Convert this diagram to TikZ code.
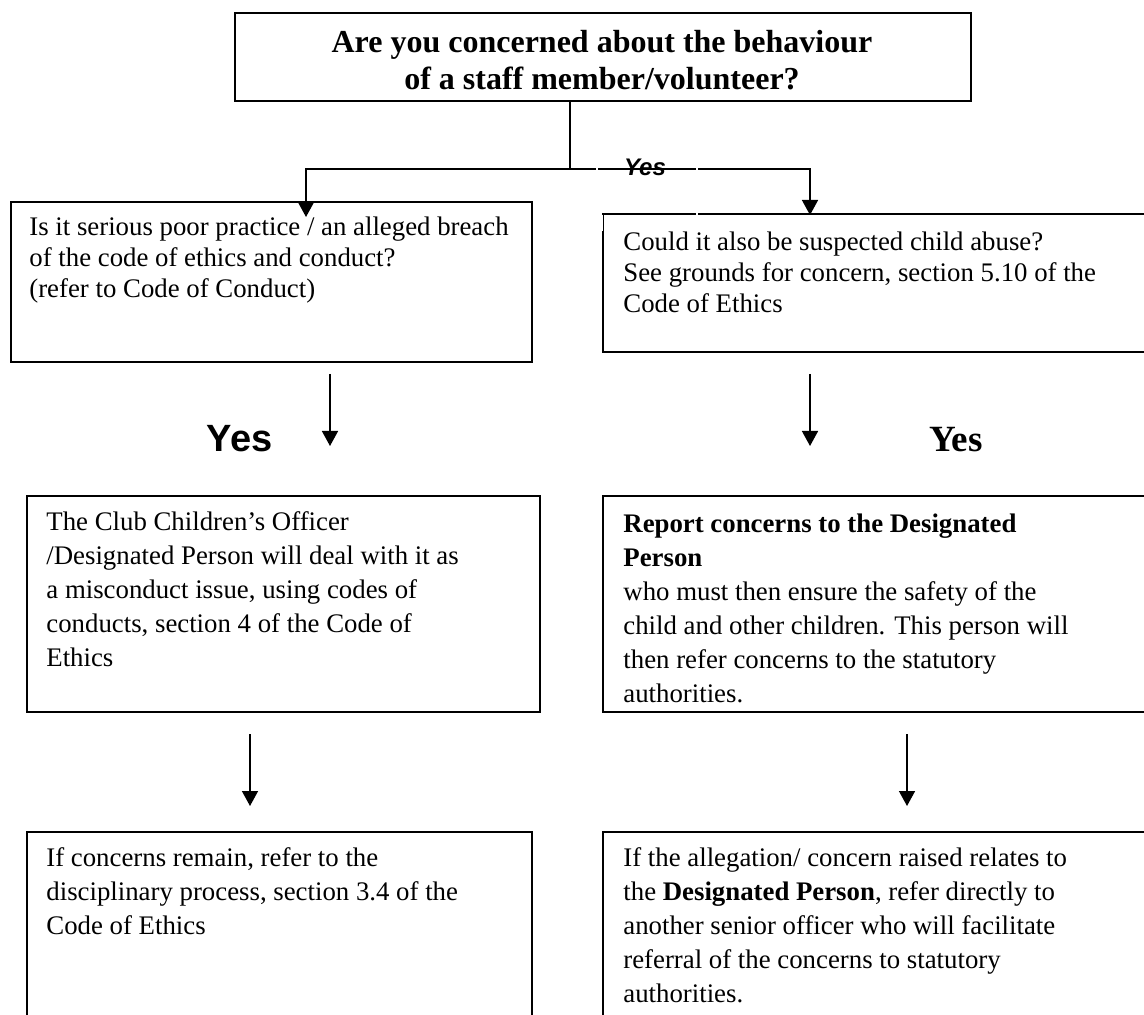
\documentclass[tikz,border=0pt]{standalone}
\usepackage{fontspec}
\setmainfont{Liberation Serif}
\newfontfamily\arialf{Liberation Sans}
\usetikzlibrary{arrows.meta,calc}
\begin{document}
\begin{tikzpicture}[x=0.5pt,y=-0.5pt,
  box/.style={draw, line width=1pt, inner sep=0pt, anchor=north west},
  txtA/.style={anchor=north west, align=left, inner sep=0pt, font=\fontsize{13.4}{15.5}\selectfont},
  txtB/.style={anchor=north west, align=left, inner sep=0pt, font=\fontsize{13.4}{17}\selectfont},
  conn/.style={line width=0.75pt},
  arr/.style={line width=0.75pt, -{Triangle[length=7.5pt,width=8pt]}},
  gap/.style={white, line width=1.2pt}]
\clip (0,0) rectangle (1144,1015);
% boxes
\node[box, minimum width=368pt, minimum height=44pt] (top) at (234,12) {};
\node[box, minimum width=260.5pt, minimum height=80pt] (lq) at (10,201) {};
\node[box, minimum width=274pt, minimum height=69pt] (rq) at (602,213) {};
\node[box, minimum width=256.5pt, minimum height=108pt] (lm) at (26,495) {};
\node[box, minimum width=274pt, minimum height=108pt] (rm) at (602,495) {};
\node[box, minimum width=252.5pt, minimum height=97pt] (lb) at (26,831) {};
\node[box, minimum width=274pt, minimum height=97pt] (rb) at (602,831) {};
% texts
\node[font=\bfseries\fontsize{16}{18.5}\selectfont, align=center, inner sep=0pt, anchor=north] (toptxt) at (602,30)
  {Are you concerned about the behaviour\\of a staff member/volunteer?};
\node[txtA] (lqtxt) at (29,216.5) {Is it serious poor practice / an alleged breach\\of the code of ethics and conduct?\\(refer to Code of Conduct)};
\node[txtA] (rqtxt) at (623,231.5) {Could it also be suspected child abuse?\\See grounds for concern, section 5.10 of the\\Code of Ethics};
\node[txtB] (lmtxt) at (46,511.5) {The Club Children’s Officer\\/Designated Person will deal with it as\\a misconduct issue, using codes of\\conducts, section 4 of the Code of\\Ethics};
\node[txtB] (rmtxt) at (623,513.5) {\textbf{Report concerns to the Designated}\\\textbf{Person}\\who must then ensure the safety of the\\child and other children. This person will\\then refer concerns to the statutory\\authorities.};
\node[txtB] (lbtxt) at (46,847.5) {If concerns remain, refer to the\\disciplinary process, section 3.4 of the\\Code of Ethics};
\node[txtB] (rbtxt) at (623,847.5) {If the allegation/ concern raised relates to\\the \textbf{Designated Person}, refer directly to\\another senior officer who will facilitate\\referral of the concerns to statutory\\authorities.};
% connectors
\coordinate (j) at (570,169);
\coordinate (lt) at (306,217);
\coordinate (rt) at (810,215);
\draw[conn] (top.south -| j) -- (j);
\draw[arr] (j) -| (lt);
\draw[arr] (j) -| (rt);
\node[font=\arialf\bfseries\itshape\fontsize{12}{14}\selectfont, inner sep=0pt] (yes0) at (645,167) {Yes};
\draw[gap] (597,165) -- (597,173);
\draw[gap] (697,165) -- (697,173);
\draw[gap] (697,209.5) -- (697,216.5);
\draw[gap] (602,215) -- (602,231);
\coordinate (a1s) at (330,374); \coordinate (a1e) at (330,446);
\coordinate (a2s) at (810,374); \coordinate (a2e) at (810,446);
\coordinate (a3s) at (250,734); \coordinate (a3e) at (250,806);
\coordinate (a4s) at (907,734); \coordinate (a4e) at (907,806);
\draw[arr] (a1s) -- (a1e);
\draw[arr] (a2s) -- (a2e);
\draw[arr] (a3s) -- (a3e);
\draw[arr] (a4s) -- (a4e);
\node[font=\arialf\bfseries\fontsize{19}{22}\selectfont, inner sep=0pt] (yes1) at (239.5,438.5) {Yes};
\node[font=\bfseries\fontsize{18.5}{22}\selectfont, inner sep=0pt] (yes2) at (956,440) {Yes};
\end{tikzpicture}
\end{document}
